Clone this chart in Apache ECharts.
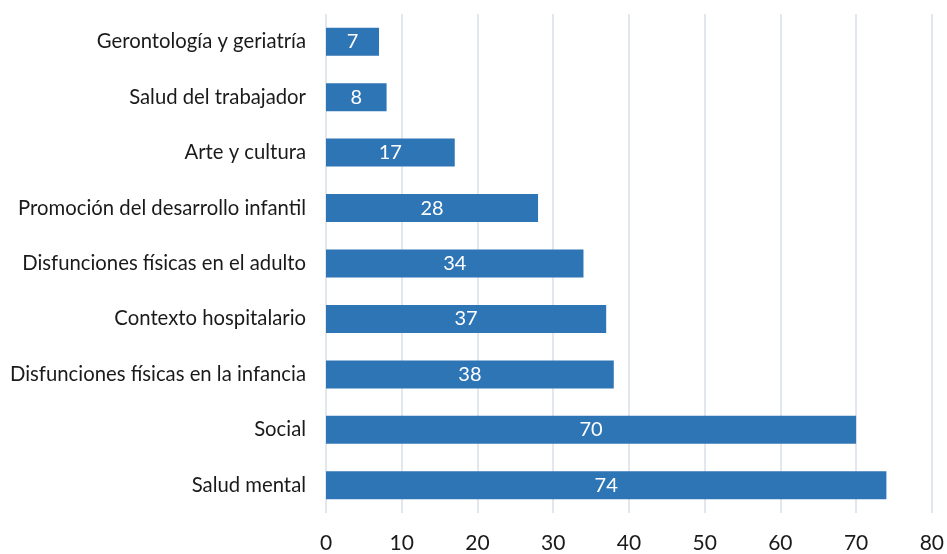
<!DOCTYPE html>
<html lang="es">
<head>
  <meta charset="UTF-8">
  <title>Áreas</title>
  <script src="https://cdn.jsdelivr.net/npm/echarts@6/dist/echarts.min.js"></script>
  <style>
    html, body { margin: 0; padding: 0; background: #fff; }
  </style>
</head>
<body>
  <div id="main" style="width: 947px;height:554px;"></div>
<script type="text/javascript">
  var categories = [
    'Salud mental',
    'Social',
    'Disfunciones físicas en la infancia',
    'Contexto hospitalario',
    'Disfunciones físicas en el adulto',
    'Promoción del desarrollo infantil',
    'Arte y cultura',
    'Salud del trabajador',
    'Gerontología y geriatría'
  ];
  var values = [74, 70, 38, 37, 34, 28, 17, 8, 7];

  var chart = echarts.init(document.getElementById('main'));

  var option = {
    animation: false,
    textStyle: { fontFamily: 'Lato' },
    grid: { left: 326, right: 13, top: 14, bottom: 40 },
    xAxis: {
      type: 'value',
      min: 0,
      max: 80,
      interval: 10,
      axisLine: { show: false },
      axisTick: { show: false },
      axisLabel: { color: '#1a1a1a', fontSize: 21, margin: 20, fontFamily: 'Lato' },
      splitLine: { lineStyle: { color: '#d9dfe8', width: 1.5 } }
    },
    yAxis: {
      type: 'category',
      data: categories,
      axisLine: { show: false },
      axisTick: { show: false },
      axisLabel: { color: '#1a1a1a', fontSize: 20.3, margin: 20, fontFamily: 'Lato' }
    },
    series: [{
      type: 'bar',
      data: values,
      barWidth: 28,
      itemStyle: { color: '#2e75b6' },
      label: {
        show: true,
        position: 'inside',
        color: '#ffffff',
        fontSize: 20,
        fontFamily: 'Lato'
      }
    }]
  };
  chart.setOption(option);
</script>
</body>
</html>
